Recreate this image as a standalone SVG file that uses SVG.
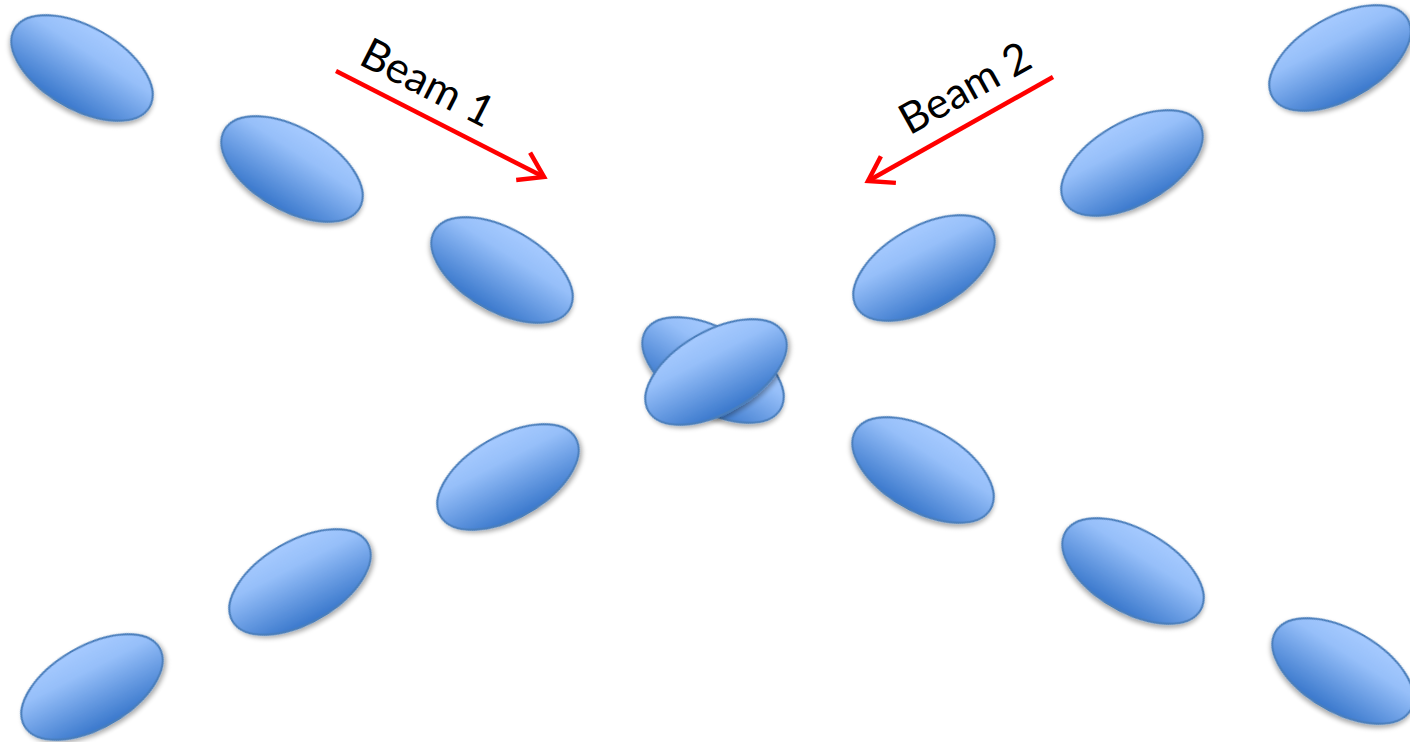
<svg xmlns="http://www.w3.org/2000/svg" width="1410" height="742" viewBox="0 0 1410 742">
<style>
.e{fill:url(#g);stroke:#4A7EBB;stroke-width:2;filter:url(#sh)}
.beam{stroke:#FF0000;stroke-width:4.5;fill:none;stroke-linecap:butt}
.lbl{font-family:Lato,"Open Sans","Liberation Sans",sans-serif;font-size:43px;fill:#000;text-anchor:middle}
</style>
<defs>
<linearGradient id="g" gradientUnits="userSpaceOnUse" x1="2" y1="-41" x2="-2" y2="41">
<stop offset="0" stop-color="#A6CAFF"/>
<stop offset="0.3" stop-color="#96BFF9"/>
<stop offset="1" stop-color="#3A78CC"/>
</linearGradient>
<filter id="sh" x="-20%" y="-20%" width="140%" height="150%">
<feGaussianBlur in="SourceAlpha" stdDeviation="2.5"/>
<feOffset dx="1" dy="3" result="b"/>
<feComponentTransfer><feFuncA type="linear" slope="0.35"/></feComponentTransfer>
<feMerge><feMergeNode/><feMergeNode in="SourceGraphic"/></feMerge>
</filter>
<marker id="ah" markerWidth="8" markerHeight="8" refX="6.2" refY="4" orient="auto" markerUnits="strokeWidth" viewBox="0 0 8 8">
<path d="M1,0.6 L6.2,4 L1,7.4" fill="none" stroke="#FF0000" stroke-width="1"/>
</marker>
</defs>
<g id="ellipse-a1"><ellipse class="e" cx="0" cy="0" rx="78" ry="41" transform="translate(82,68) rotate(30)"/></g>
<g id="ellipse-a2"><ellipse class="e" cx="0" cy="0" rx="78" ry="41" transform="translate(292,169) rotate(30)"/></g>
<g id="ellipse-a3"><ellipse class="e" cx="0" cy="0" rx="78" ry="41" transform="translate(502,270) rotate(30)"/></g>
<g id="ellipse-b7"><ellipse class="e" cx="0" cy="0" rx="78" ry="41" transform="translate(1340,58) rotate(-30)"/></g>
<g id="ellipse-b8"><ellipse class="e" cx="0" cy="0" rx="78" ry="41" transform="translate(1132,163) rotate(-30)"/></g>
<g id="ellipse-b9"><ellipse class="e" cx="0" cy="0" rx="78" ry="41" transform="translate(924,268) rotate(-30)"/></g>
<g id="ellipse-center-a"><ellipse class="e" cx="0" cy="0" rx="78" ry="41" transform="translate(713,370) rotate(30)"/></g>
<g id="ellipse-center-b"><ellipse class="e" cx="0" cy="0" rx="78" ry="41" transform="translate(716,372) rotate(-30)"/></g>
<g id="ellipse-a4"><ellipse class="e" cx="0" cy="0" rx="78" ry="41" transform="translate(923,470) rotate(30)"/></g>
<g id="ellipse-a5"><ellipse class="e" cx="0" cy="0" rx="78" ry="41" transform="translate(1133,571) rotate(30)"/></g>
<g id="ellipse-a6"><ellipse class="e" cx="0" cy="0" rx="78" ry="41" transform="translate(1343,671) rotate(30)"/></g>
<g id="ellipse-b10"><ellipse class="e" cx="0" cy="0" rx="78" ry="41" transform="translate(508,477) rotate(-30)"/></g>
<g id="ellipse-b11"><ellipse class="e" cx="0" cy="0" rx="78" ry="41" transform="translate(300,582) rotate(-30)"/></g>
<g id="ellipse-b12"><ellipse class="e" cx="0" cy="0" rx="78" ry="41" transform="translate(92,687) rotate(-30)"/></g>
<g id="connectors">
<line class="beam" x1="336" y1="71" x2="544" y2="177" marker-end="url(#ah)"/>
<line class="beam" x1="1053" y1="77" x2="868" y2="181" marker-end="url(#ah)"/>
</g>
<g id="label-beam1"><text class="lbl" transform="translate(421,96) rotate(27)">Beam 1</text></g>
<g id="label-beam2"><text class="lbl" transform="translate(972,101) rotate(-29)">Beam 2</text></g>
</svg>
